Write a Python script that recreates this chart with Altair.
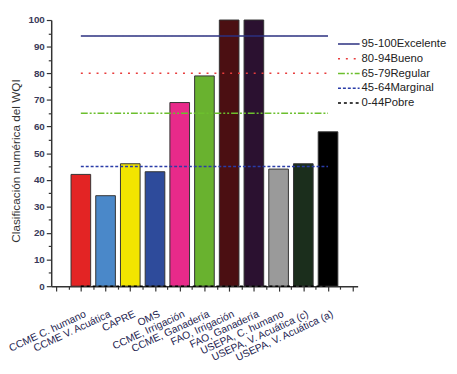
import json
import altair as alt
import pandas as pd

categories = ["CCME C. humano", "CCME V. Acuática", "CAPRE", "OMS", "CCME, Irrigación",
              "CCME, Ganadería", "FAO, Irrigación", "FAO, Ganadería", "USEPA, C. humano",
              "USEPA, V. Acuática (c)", "USEPA, V. Acuática (a)"]
values = [42, 34, 46, 43, 69, 79, 100, 100, 44, 46, 58]
bar_colors = ["#e32424", "#4a88c9", "#f2e500", "#2e4b9b", "#e82a8a", "#69b22f",
              "#4b0f12", "#2b1130", "#9a9a9a", "#1b2e1c", "#000000"]

levels = ["95-100Excelente", "80-94Bueno", "65-79Regular", "45-64Marginal", "0-44Pobre"]
level_values = [94, 80, 65, 45, 0]
level_colors = ["#2b3080", "#e83c3c", "#6cbf2e", "#2a3ca8", "#000000"]
level_dashes = [[1, 0], [2, 6], [7, 2, 2, 2, 2, 2], [3, 2], [3, 3]]

bars_df = pd.DataFrame({
    "cat": categories,
    "pos": list(range(1, len(categories) + 1)),
    "val": values,
    "col": bar_colors,
})
lines_df = pd.DataFrame({"level": levels, "val": level_values,
                         "x1": [1] * len(levels), "x2": [11] * len(levels)})

label_expr = ("datum.value % 1 == 0 && datum.value >= 1 && datum.value <= 11 ? "
              + json.dumps(categories, ensure_ascii=False) + "[datum.value - 1] : ''")

xscale = alt.Scale(domain=[0, 12], nice=False, zero=False)
yscale = alt.Scale(domain=[0, 100], nice=False)

x_axis = alt.Axis(
    values=[i * 0.5 for i in range(25)], labelExpr=label_expr, labelAngle=-25,
    labelAlign="right", labelBaseline="top", labelFontSize=10.5, labelFont="Liberation Sans",
    labelColor="#1e2450", labelOverlap=False, labelFlush=False, labelPadding=18,
    labelOffset=2,
    title=None, grid=False,
    tickSize={"condition": {"test": "datum.value % 1 === 0", "value": 5}, "value": 3},
    tickColor="#333333", domainColor="#333333", domainWidth=1.5, tickWidth=1.2,
)
y_axis = alt.Axis(
    values=list(range(0, 101, 5)),
    labelExpr="datum.value % 10 === 0 ? datum.label : ''",
    title="Clasificación numérica del WQI",
    titleFontSize=12, titleFont="Liberation Sans", titleFontWeight="normal",
    titleColor="#333333", titlePadding=6, titleY=143,
    labelFontSize=10, labelFont="Liberation Sans",
    labelColor="#3a3a5a", labelFontWeight="bold", grid=False,
    tickSize={"condition": {"test": "datum.value % 10 === 0", "value": 5}, "value": 3},
    tickColor="#333333", domainColor="#333333", domainWidth=1.5, tickWidth=1.2,
    labelPadding=2, labelOverlap=False,
)

bars = alt.Chart(bars_df).mark_bar(width=20, stroke="#333333", strokeWidth=1).encode(
    x=alt.X("pos:Q", scale=xscale, axis=x_axis),
    y=alt.Y("val:Q", scale=yscale, axis=y_axis),
    color=alt.Color("col:N", scale=None, legend=None),
)

legend = alt.Legend(
    title=None, orient="none", legendX=291, legendY=18, symbolType="stroke",
    symbolSize=484, symbolStrokeWidth=1.5, labelFontSize=11.5, labelFont="Liberation Sans",
    labelColor="#222222", labelOffset=1, rowPadding=2, clipHeight=13, padding=0,
    labelLimit=200,
)

rules = alt.Chart(lines_df).mark_rule(strokeWidth=1.6).encode(
    x=alt.X("x1:Q", scale=xscale, axis=x_axis),
    x2="x2:Q",
    y=alt.Y("val:Q", scale=yscale, axis=y_axis),
    stroke=alt.Stroke("level:N", scale=alt.Scale(domain=levels, range=level_colors),
                      legend=legend),
    strokeDash=alt.StrokeDash("level:N", scale=alt.Scale(domain=levels, range=level_dashes),
                              legend=legend),
)

chart = alt.layer(bars, rules).properties(
    width=312, height=271,
    autosize=alt.AutoSizeParams(type="none"),
    padding={"left": 44, "top": 9, "right": 93, "bottom": 78},
).configure_view(stroke=None).configure_axis(labelOverlap=False)

chart.save("out.html", embed_options={"renderer": "svg", "actions": False})
